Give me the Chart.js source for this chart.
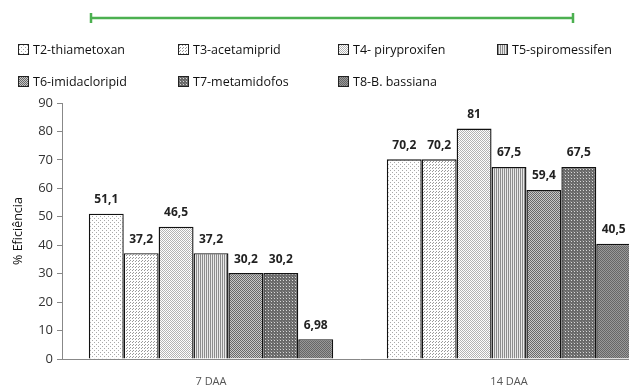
<!DOCTYPE html>
<html>
<head>
<meta charset="utf-8">
<script src="https://cdn.jsdelivr.net/npm/chart.js@4"></script>
<style>
  html, body { margin: 0; padding: 0; background: #fff; overflow: hidden; width: 629px; height: 387px; }
  #wrap { position: absolute; left: 0; top: 0; width: 660px; height: 387px; }
  #legend { position: absolute; left: 0; top: 0; width: 629px; height: 100px; font-family: "Open Sans", sans-serif; font-size: 12.5px; color: #111; }
  .item { position: absolute; display: flex; align-items: center; white-space: nowrap; }
  .item canvas { border: 1px solid #222; margin-right: 4px; }
</style>
</head>
<body>
<div id="wrap"><canvas id="myChart" width="660" height="387"></canvas></div>
<div id="legend"></div>
<script>
var categories = ["7 DAA", "14 DAA"]
var seriesNames = ["T2-thiametoxan", "T3-acetamiprid", "T4- piryproxifen", "T5-spiromessifen", "T6-imidacloripid", "T7-metamidofos", "T8-B. bassiana"]
var t2 = [51.1, 70.2]
var t3 = [37.2, 70.2]
var t4 = [46.5, 81]
var t5 = [37.2, 67.5]
var t6 = [30.2, 59.4]
var t7 = [30.2, 67.5]
var t8 = [6.98, 40.5]
var yTicks = [0, 10, 20, 30, 40, 50, 60, 70, 80, 90]

var seriesValues = [t2, t3, t4, t5, t6, t7, t8]

// little pattern tiles, light to dark
function makePattern(i) {
    var c = document.createElement("canvas")
    var g = c.getContext("2d")
    if (i === 0) {
        c.width = 4; c.height = 4
        g.fillStyle = "#fff"; g.fillRect(0, 0, 4, 4)
        g.fillStyle = "#a8a8a8"; g.fillRect(0, 0, 1, 1); g.fillRect(2, 2, 1, 1)
    } else if (i === 1) {
        c.width = 3; c.height = 3
        g.fillStyle = "#fff"; g.fillRect(0, 0, 3, 3)
        g.fillStyle = "#999"; g.fillRect(0, 0, 1, 1)
        g.fillRect(1, 2, 1, 1)
    } else if (i === 2) {
        c.width = 2; c.height = 2
        g.fillStyle = "#fff"; g.fillRect(0, 0, 2, 2)
        g.fillStyle = "#b4b4b4"; g.fillRect(0, 0, 1, 1); g.fillRect(1, 1, 1, 1)
    } else if (i === 3) {
        c.width = 2; c.height = 2
        g.fillStyle = "#e8e8e8"; g.fillRect(0, 0, 2, 2)
        g.fillStyle = "#8c8c8c"; g.fillRect(0, 0, 1, 2)
    } else if (i === 4) {
        c.width = 2; c.height = 2
        g.fillStyle = "#c8c8c8"; g.fillRect(0, 0, 2, 2)
        g.fillStyle = "#686868"; g.fillRect(0, 0, 1, 1); g.fillRect(1, 1, 1, 1)
    } else if (i === 5) {
        c.width = 3; c.height = 3
        g.fillStyle = "#6a6a6a"; g.fillRect(0, 0, 3, 3)
        g.fillStyle = "#d8d8d8"; g.fillRect(1, 1, 1, 1)
        g.fillStyle = "#888"; g.fillRect(0, 0, 1, 1)
    } else {
        c.width = 2; c.height = 2
        g.fillStyle = "#999"; g.fillRect(0, 0, 2, 2)
        g.fillStyle = "#666"; g.fillRect(0, 0, 1, 1); g.fillRect(1, 1, 1, 1)
    }
    return g.createPattern(c, "repeat")
}

var datasets = seriesNames.map(function (name, i) {
    return {
        label: name,
        data: seriesValues[i],
        backgroundColor: makePattern(i),
        borderColor: "#111",
        borderWidth: 1.4,
        borderSkipped: "bottom",
        categoryPercentage: 0.82,
        barPercentage: 1.0
    }
})

// html legend laid out as a grid like the original
var legendBox = document.getElementById("legend")
var colX = [18, 178, 338, 497]
var rowY = [49, 81]
seriesNames.forEach(function (name, i) {
    var d = document.createElement("div")
    d.className = "item"
    d.style.left = colX[i % 4] + "px"
    d.style.top = (rowY[Math.floor(i / 4)] - 9) + "px"
    d.style.height = "18px"
    var sw = document.createElement("canvas")
    sw.width = 9; sw.height = 9
    var sg = sw.getContext("2d")
    sg.fillStyle = makePattern(i)
    sg.fillRect(0, 0, 9, 9)
    d.appendChild(sw)
    d.appendChild(document.createTextNode(name))
    legendBox.appendChild(d)
})

var valueLabels = {
    id: "valueLabels",
    afterDatasetsDraw: function (chart) {
        var ctx = chart.ctx
        ctx.save()
        ctx.font = "bold 12px 'Open Sans', sans-serif"
        ctx.fillStyle = "#222"
        ctx.textAlign = "center"
        ctx.textBaseline = "middle"
        chart.data.datasets.forEach(function (ds, i) {
            chart.getDatasetMeta(i).data.forEach(function (bar, j) {
                ctx.fillText(String(ds.data[j]).replace(".", ","), bar.x, bar.y - 14)
            })
        })
        ctx.restore()
    }
}

// green bracket line at the top of the figure
var topBracket = {
    id: "topBracket",
    afterDraw: function (chart) {
        var ctx = chart.ctx
        ctx.save()
        ctx.strokeStyle = "#4cb050"
        ctx.lineWidth = 2.5
        ctx.beginPath()
        ctx.moveTo(91, 18); ctx.lineTo(573, 18)
        ctx.moveTo(91, 13); ctx.lineTo(91, 23)
        ctx.moveTo(573, 13); ctx.lineTo(573, 23)
        ctx.stroke()
        ctx.restore()
    }
}

var chartField = document.querySelector("#myChart").getContext("2d")
var myChart = new Chart(chartField, {
    type: "bar",
    data: { labels: categories, datasets: datasets },
    plugins: [valueLabels, topBracket],
    options: {
        responsive: false,
        animation: false,
        layout: { padding: { top: 103, right: 2, left: 11, bottom: 0 } },
        plugins: { legend: { display: false }, tooltip: { enabled: false } },
        scales: {
            x: {
                grid: { display: false },
                border: { display: true, color: "#888", width: 1 },
                ticks: { color: "#555", font: { family: "Open Sans", size: 11 }, padding: 8 },
                afterFit: function (s) { s.height = 28 }
            },
            y: {
                min: 0,
                max: 90,
                afterBuildTicks: function (s) { s.ticks = yTicks.map(function (v) { return { value: v } }) },
                grid: { drawOnChartArea: false, drawTicks: true, tickLength: 5, color: "#888" },
                border: { display: true, color: "#888", width: 1 },
                ticks: { color: "#333", font: { family: "Open Sans", size: 13 }, padding: 4 },
                title: { display: true, text: "% Eficiência", color: "#111", font: { family: "Open Sans", size: 12.5 }, padding: 0 },
                afterFit: function (s) { s.width = 51 }
            }
        }
    }
})
</script>
</body>
</html>
